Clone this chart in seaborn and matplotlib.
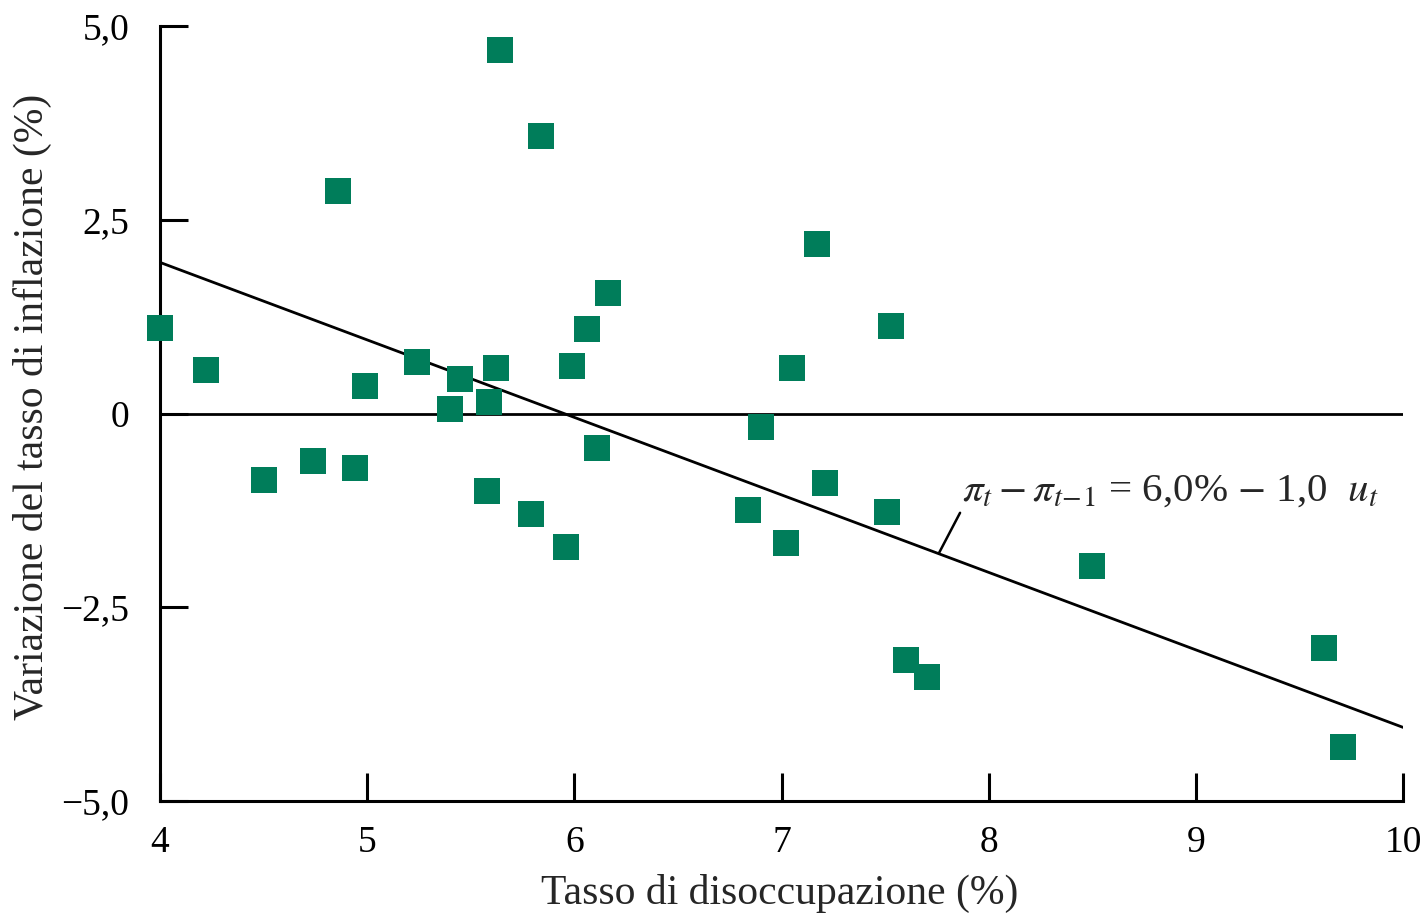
import numpy as np
import pandas as pd
import seaborn as sns
import matplotlib.pyplot as plt

# Unemployment rate (%) and change in inflation (%)
unemployment = [4.00, 4.22, 4.50, 4.74, 4.86, 4.94, 4.99, 5.24, 5.40, 5.45,
                5.58, 5.59, 5.62, 5.64, 5.79, 5.84, 5.96, 5.99, 6.06, 6.11,
                6.16, 6.84, 6.90, 7.02, 7.05, 7.17, 7.21, 7.51, 7.53, 7.60,
                7.70, 8.50, 9.62, 9.71]
inflation_change = [1.10, 0.56, -0.86, -0.61, 2.87, -0.70, 0.35, 0.66, 0.06, 0.45,
                    -1.00, 0.15, 0.59, 4.69, -1.30, 3.58, -1.72, 0.61, 1.09, -0.45,
                    1.55, -1.25, -0.17, -1.67, 0.59, 2.19, -0.90, -1.27, 1.13, -3.18,
                    -3.40, -1.97, -3.03, -4.30]

# fitted line endpoints
line_x = [4.0, 10.0]
intercept = 5.95
slope = -1.0

x_ticks = [4, 5, 6, 7, 8, 9, 10]
y_ticks = [-5.0, -2.5, 0.0, 2.5, 5.0]
y_tick_labels = ['\u22125,0', '\u22122,5', '0', '2,5', '5,0']

green = '#007D5A'

sns.set_style('white')
plt.rcParams['font.family'] = ['Liberation Serif', 'DejaVu Serif']
plt.rcParams['mathtext.fontset'] = 'stix'

df = pd.DataFrame({'u': unemployment, 'dpi': inflation_change})
line_df = pd.DataFrame({'u': line_x, 'fit': [intercept + slope * v for v in line_x]})

fig = plt.figure(figsize=(14.25, 9.17), dpi=100)
ax = fig.add_axes([0.1123, 0.1265, 0.8723, 0.8451])

ax.axhline(0, color='black', lw=2.0, zorder=1)
sns.lineplot(data=line_df, x='u', y='fit', color='black', lw=2.0, ax=ax, zorder=2)
sns.scatterplot(data=df, x='u', y='dpi', marker='s', s=350, color=green,
                linewidth=0, ax=ax, zorder=3, clip_on=False)

ax.set_xlim(4, 10)
ax.set_ylim(-5, 5)
ax.set_xticks(x_ticks)
ax.set_xticklabels([str(t) for t in x_ticks])
ax.set_yticks(y_ticks)
ax.set_yticklabels(y_tick_labels)
ax.tick_params(bottom=True, left=True, direction='in', length=20, width=2.2,
               labelsize=27, colors='black')
ax.tick_params(axis='x', pad=18)
ax.tick_params(axis='y', pad=22)

for side in ['top', 'right']:
    ax.spines[side].set_visible(False)
for side in ['left', 'bottom']:
    ax.spines[side].set_linewidth(2.2)
    ax.spines[side].set_color('black')

ax.set_xlabel('Tasso di disoccupazione (%)', fontsize=30)
ax.set_ylabel('Variazione del tasso di inflazione (%)', fontsize=30)
ax.xaxis.set_label_coords(0.4988, -0.094)
ax.yaxis.set_label_coords(-0.087, 0.508)

ax.annotate(r'$\pi_t - \pi_{t\!-\!1}$ = 6,0% $-$ 1,0  $u_t$',
            xy=(7.76, -1.80), xytext=(7.87, -1.0), fontsize=29.5,
            ha='left', va='center',
            arrowprops=dict(arrowstyle='-', color='black', lw=1.8,
                            shrinkA=0, shrinkB=0, relpos=(0, 0)))

fig.savefig('out.png', dpi=100)
